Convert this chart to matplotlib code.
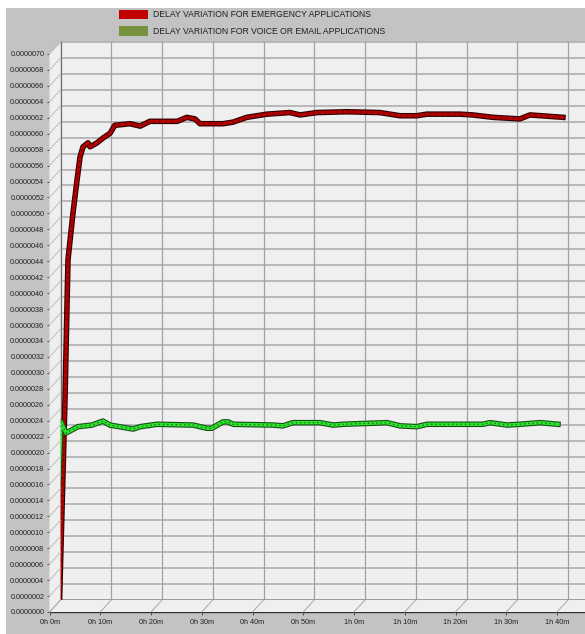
import matplotlib
matplotlib.use("Agg")
import matplotlib.pyplot as plt
import matplotlib.patheffects as pe
from matplotlib.patches import Rectangle, Polygon
from matplotlib.transforms import ScaledTranslation
import numpy as np

# simulation time (minutes) and delay variation (seconds)
emerg_t = [0.0, 1.08, 1.67, 2.66, 3.45, 4.04, 4.63, 5.62, 6.01, 7.39, 8.57, 9.95,
           10.9, 13.9, 15.9, 17.8, 23.2, 25.1, 26.7, 27.7, 32.2, 34.2, 36.9, 40.9,
           45.4, 47.4, 50.7, 56.6, 63.1, 67.1, 70.4, 72.4, 78.9, 81.4, 85.4, 90.7,
           92.7, 99.2]
emerg_v = np.array([0.0, 2.53, 4.29, 4.88, 5.29, 5.58, 5.71, 5.76, 5.71, 5.76, 5.82, 5.88,
                    5.98, 6.00, 5.97, 6.03, 6.03, 6.08, 6.06, 6.00, 6.00, 6.02, 6.08, 6.12,
                    6.14, 6.11, 6.14, 6.15, 6.14, 6.10, 6.10, 6.12, 6.12, 6.11, 6.08, 6.06,
                    6.11, 6.08]) * 1e-6

voice_t = [0.0, 1.48, 2.46, 3.65, 4.83, 7.59, 9.75, 11.1, 15.7, 17.1, 20.4, 27.5,
           30.2, 31.2, 33.4, 34.4, 35.4, 43.3, 45.2, 47.2, 52.5, 55.1, 57.1, 65.7,
           68.3, 71.6, 73.6, 84.6, 86.0, 89.4, 91.9, 95.9, 99.4]
voice_v = np.array([0.0, 2.36, 2.22, 2.26, 2.30, 2.32, 2.37, 2.32, 2.27, 2.30, 2.33, 2.32,
                    2.28, 2.28, 2.36, 2.36, 2.33, 2.32, 2.31, 2.35, 2.35, 2.32, 2.33, 2.35,
                    2.31, 2.30, 2.33, 2.33, 2.35, 2.32, 2.33, 2.35, 2.33]) * 1e-6

yticks = np.arange(0, 36) * 2e-7
xticks = np.arange(0, 101, 10)
xlabels = [f"{m // 60}h {m % 60}m" for m in xticks]

W, H = 585, 634
fig = plt.figure(figsize=(W / 100, H / 100), dpi=100)
fig.patch.set_facecolor("#c3c3c3")

# front frame of the pseudo-3D chart
x0, x1, y0, y1 = 49.5, 557, 612, 54
ax = fig.add_axes([x0 / W, (H - y0) / H, (x1 - x0) / W, (y0 - y1) / H])
ax.set_xlim(0, 100)
ax.set_ylim(0, 7e-6)
ax.patch.set_visible(False)
for s in ["top", "right"]:
    ax.spines[s].set_visible(False)
ax.spines["left"].set_color("#9a9a9a")
ax.spines["left"].set_linewidth(0.7)
ax.spines["bottom"].set_color("#303030")
ax.spines["bottom"].set_linewidth(1.0)
ax.spines["bottom"].set_bounds(0, 110)
ax.spines["bottom"].set_clip_on(False)

def shifted(dx, dy):
    return ax.transData + ScaledTranslation(dx / 100, dy / 100, fig.dpi_scale_trans)

back = shifted(11, 12)
wall = "#efefef"
xend = 110

# walls
ax.add_patch(Rectangle((0, 0), xend, 7e-6, transform=back, facecolor=wall,
                       edgecolor="none", clip_on=False, zorder=0))
fx, fy = ax.transData.transform((0, 0))
bx, by = back.transform((0, 0))
_, fty = ax.transData.transform((0, 7e-6))
_, bty = back.transform((0, 7e-6))
ex, _ = ax.transData.transform((xend, 0))
for pts in ([(fx, fy), (fx, fty), (bx, bty), (bx, by)],
            [(fx, fy), (ex, fy), (ex + 11, by), (bx, by)]):
    fig.add_artist(Polygon(pts, closed=True, transform=None, facecolor=wall,
                           edgecolor="none", zorder=0.5))

# back-wall grid
for v in yticks:
    ax.plot([0, xend], [v, v], transform=back, color="#b4b4b4", lw=1.3,
            clip_on=False, zorder=1)
for t in xticks:
    ax.plot([t, t], [0, 7e-6], transform=back, color="#a2a2a2", lw=0.9,
            clip_on=False, zorder=1)
ax.plot([0, xend], [0, 0], transform=back, color="#303030", lw=1.0,
        clip_on=False, zorder=1.2)
ax.plot([0, 0], [0, 7e-6], transform=back, color="#707070", lw=0.8,
        clip_on=False, zorder=1.2)

# diagonals on the side wall and floor
for v in yticks:
    _, py = ax.transData.transform((0, v))
    fig.add_artist(plt.Line2D([fx, bx], [py, py + 12], transform=None,
                              color="#bdbdbd", lw=0.7, zorder=0.8))
for t in xticks:
    px, _ = ax.transData.transform((t, 0))
    fig.add_artist(plt.Line2D([px, px + 11], [fy, by], transform=None,
                              color="#a8a8a8", lw=0.7, zorder=0.8))

# series drawn as ribbons
red_tr = shifted(10, 10)
ax.plot(emerg_t, emerg_v, transform=red_tr, color="#b80000", lw=2.4,
        solid_joinstyle="round", clip_on=False, zorder=3,
        path_effects=[pe.Stroke(linewidth=4.0, foreground="#2a0000"), pe.Normal()])
ax.plot(emerg_t, emerg_v, transform=red_tr, color="#5a0000", lw=0.9,
        dashes=(1.2, 3.5), clip_on=False, zorder=3.1)

green_tr = shifted(4, 2)
ax.plot(voice_t, voice_v, transform=green_tr, color="#2ee62e", lw=2.4,
        solid_joinstyle="round", clip_on=False, zorder=4,
        path_effects=[pe.Stroke(linewidth=4.0, foreground="#165016"), pe.Normal()])
ax.plot(voice_t, voice_v, transform=green_tr, color="#137013", lw=0.9,
        dashes=(1.2, 2.2), clip_on=False, zorder=4.1)

# ticks and labels
ax.set_yticks(yticks)
ax.set_yticklabels([f"{v:.7f}" for v in yticks])
ax.set_xticks(xticks)
ax.set_xticklabels(xlabels)
ax.tick_params(axis="both", length=2.2, width=0.6, color="#404040", pad=1.5,
               labelsize=5.2, labelcolor="#202020")
ax.tick_params(axis="x", pad=3)
for lab in ax.get_xticklabels() + ax.get_yticklabels():
    lab.set_fontfamily(["Liberation Sans", "DejaVu Sans"])

# legend
for y, col, txt in [(14.5, "#c00000", "DELAY VARIATION FOR EMERGENCY APPLICATIONS"),
                    (31, "#76923c", "DELAY VARIATION FOR VOICE OR EMAIL APPLICATIONS")]:
    fig.add_artist(Rectangle((119 / W, (H - y - 4.5) / H), 29 / W, 9 / H,
                             transform=fig.transFigure, facecolor=col, edgecolor="none"))
    fig.text(153 / W, (H - y) / H, txt, fontsize=6.2,
             family=["Liberation Sans", "DejaVu Sans"],
             color="#202020", va="center", ha="left")

# white margin strips
fig.add_artist(Rectangle((0, 1 - 8 / H), 1, 8 / H, transform=fig.transFigure,
                         facecolor="white", edgecolor="none", zorder=10))
fig.add_artist(Rectangle((0, 0), 6 / W, 1, transform=fig.transFigure,
                         facecolor="white", edgecolor="none", zorder=10))

fig.savefig("out.png", dpi=100, facecolor=fig.get_facecolor())
